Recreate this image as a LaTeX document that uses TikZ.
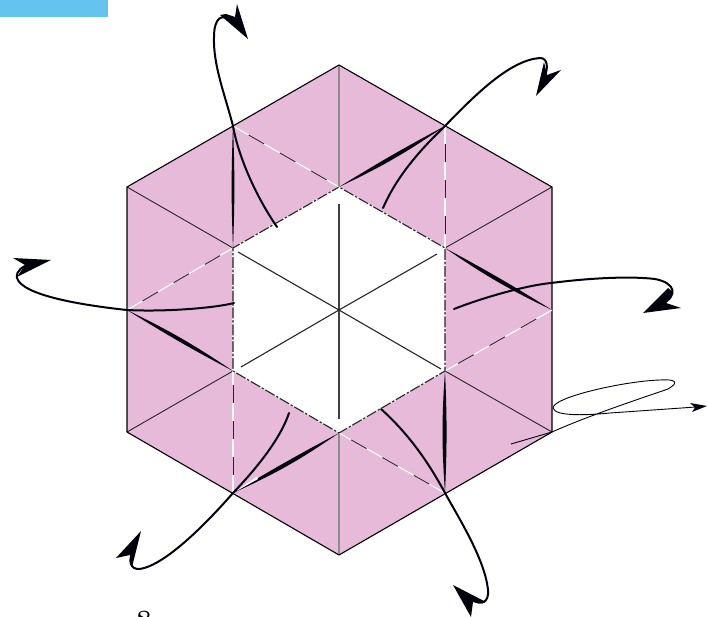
\documentclass[tikz,border=0pt]{standalone}
\usepackage{fontspec}
\begin{document}
\begin{tikzpicture}[x=1pt,y=-1pt,
  outline/.style={line width=1.1pt,black,line join=miter},
  spoke/.style={line width=.9pt,black!85},
  midspoke/.style={line width=1.4pt,black!75},
  grayspoke/.style={line width=1.3pt,black!45},
  foldbase/.style={line width=.8pt,black!85},
  foldwhite/.style={line width=1.4pt,white,dash pattern=on 18pt off 18pt},
  hexbase/.style={line width=1.1pt,black!85},
  hexwhite/.style={line width=1.6pt,white,dash pattern=on 1.6pt off 2.6pt on 1.6pt off 11pt},
  sweep/.style={line width=2pt,black!95!blue,line cap=round},
  thinsweep/.style={line width=.9pt,black!95!blue},
  head/.style={fill=black!95!blue,draw=none},
  lens/.style={fill=black!95!blue,draw=none}]
\useasboundingbox (0,0) rectangle (709,617);
\clip (0,0) rectangle (709,617);
\fill[fill={rgb,255:red,101;green,195;blue,239}] (0,0) rectangle (108,17);
% outer hexagon with inner hole
\coordinate (o1) at (339,65); \coordinate (o2) at (552,187); \coordinate (o3) at (552,432);
\coordinate (o4) at (339,555); \coordinate (o5) at (127,432); \coordinate (o6) at (127,187);
\coordinate (m1) at (445,126); \coordinate (m2) at (552,310); \coordinate (m3) at (445,493);
\coordinate (m4) at (233,493); \coordinate (m5) at (127,310); \coordinate (m6) at (233,126);
\coordinate (i1) at (339,187); \coordinate (i2) at (445,248); \coordinate (i3) at (445,371);
\coordinate (i4) at (339,433); \coordinate (i5) at (233,371); \coordinate (i6) at (233,248);
\coordinate (c) at (339,310);
\fill[fill={rgb,255:red,230;green,186;blue,216},even odd rule]
  (o1)--(o2)--(o3)--(o4)--(o5)--(o6)--cycle (i1)--(i2)--(i3)--(i4)--(i5)--(i6)--cycle;
% spokes, outer to inner
\draw[grayspoke] (o1)--(i1); \draw[grayspoke] (o4)--(i4);
\draw[spoke] (o2)--(i2); \draw[spoke] (o3)--(i3); \draw[spoke] (o5)--(i5); \draw[spoke] (o6)--(i6);
% spokes in the hole
\draw[midspoke] (339,204)--(c); \draw[midspoke] (339,419)--(c);
\draw[spoke,line width=1.1pt] (238,252)--(c); \draw[spoke,line width=1.1pt] (437,254)--(c);
\draw[spoke,line width=1.1pt] (241,367)--(c); \draw[spoke,line width=1.1pt] (441,369)--(c);
\draw[outline] (o1)--(o2)--(o3)--(o4)--(o5)--(o6)--cycle;
% valley folds from edge midpoints
\foreach \a/\b in {m6/i1,m1/i2,m2/i3,m3/i4,m4/i5,m5/i6}{
  \draw[foldbase] (\a)--(\b);
  \draw[foldwhite] (\a)--(\b);
}
% inner hexagon
\draw[hexbase] (i1)--(i2)--(i3)--(i4)--(i5)--(i6)--cycle;
\draw[hexwhite] (i1)--(i2)--(i3)--(i4)--(i5)--(i6)--cycle;
% swelling creases
\fill[lens] (m1) to[bend left=4.5] (i1) to[bend left=1.8] (m1);
\fill[lens] (m2) to[bend left=4.5] (i2) to[bend left=1.8] (m2);
\fill[lens] (m3) to[bend left=4] (i3) to[bend left=2.5] (m3);
\fill[lens] (i4) to[bend left=5] (m4) to[bend left=1.5] (i4);
\fill[white] (235.5,491.5) -- (258,479) -- (257,476.5) -- cycle;
\fill[lens] (m5) to[bend left=4] (i5) to[bend left=2] (m5);
\fill[lens] (m6) to[bend left=2.2] (i6) to[bend left=2.2] (m6);
% curved arrows
\draw[sweep] (277,227) .. controls (255,195) and (238,155) .. (m6)
  .. controls (225,95) and (213,65) .. (214,37)
  .. controls (214,18) and (222,12) .. (232,22);
\fill[head] (248,39)--(237,4)--(235,17)--(226,14)--(220,15)--cycle;
\draw[sweep] (383,208) .. controls (397,176) and (420,150) .. (m1)
  .. controls (475,95) and (510,60) .. (540,58)
  .. controls (548,58) and (548,68) .. (545,76);
\fill[head] (536,96)--(561,70)--(547,75)--(544,62)--cycle;
\draw[sweep] (454,309) .. controls (490,295) and (530,285) .. (551,283)
  .. controls (590,278) and (630,276) .. (655,279)
  .. controls (676,283) and (678,296) .. (662,304);
\fill[head] (643,313)--(681,308)--(666,303)--(673,292)--(668,288)--cycle;
\draw[sweep] (381,409) .. controls (410,435) and (430,465) .. (m3)
  .. controls (460,520) and (485,560) .. (488,590)
  .. controls (489,602) and (482,606) .. (472,600);
\fill[head] (453,585)--(471,617)--(473,602)--(486,602)--cycle;
\draw[sweep] (289,413) .. controls (280,440) and (255,470) .. (m4)
  .. controls (205,525) and (165,565) .. (140,569)
  .. controls (130,570) and (128,560) .. (133,552);
\fill[head] (141,531)--(116,558)--(130,555)--(132,567)--cycle;
\draw[sweep] (234,303) .. controls (215,308) and (165,312) .. (m5)
  .. controls (80,305) and (22,295) .. (17,278)
  .. controls (16,270) and (22,267) .. (32,263);
\fill[head] (51,260)--(13,258)--(25,265)--(17,277)--cycle;
% thin arrow from the corner
\draw[thinsweep] (511,444) -- (o3)
  .. controls (590,415) and (645,397) .. (668,389)
  .. controls (680,382) and (675,379) .. (660,380)
  .. controls (625,381) and (553,397) .. (553,408)
  .. controls (555,417) and (590,415) .. (610,413)
  -- (696,407);
\fill[head] (707,406)--(690,403)--(695,407.5)--(692,412)--cycle;
% page number cut by the frame
\node[inner sep=0pt,anchor=base,font=\fontsize{28}{28}\bfseries\selectfont] (pagenum) at (144,629.5) {8};
\end{tikzpicture}
\end{document}
